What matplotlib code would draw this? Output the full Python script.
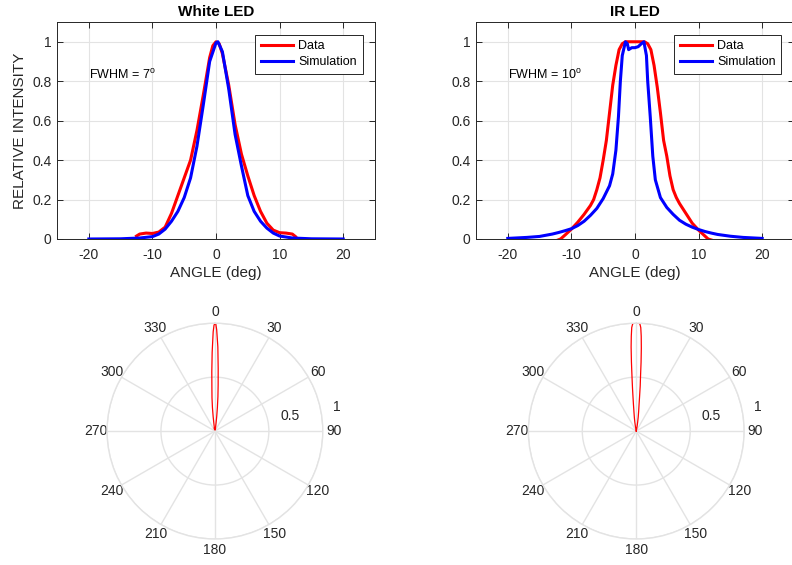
import numpy as np
import matplotlib
matplotlib.use("Agg")
from matplotlib import pyplot as plt

plt.rcParams['font.family'] = ['Liberation Sans', 'DejaVu Sans']
plt.rcParams['mathtext.fontset'] = 'custom'
plt.rcParams['mathtext.rm'] = 'Liberation Sans'
plt.rcParams['axes.unicode_minus'] = False

# White LED - measured data
white_ang = [-12.5, -12, -11, -10, -9, -8, -7, -6, -5, -4, -3, -2, -1, -0.5, 0,
             0.5, 1, 2, 3, 4, 5, 6, 7, 8, 9, 10, 11, 12, 12.5]
white_dat = [0.015, 0.025, 0.03, 0.028, 0.035, 0.06, 0.13, 0.22, 0.31, 0.40, 0.55, 0.73, 0.92, 0.98, 1.0,
             0.99, 0.94, 0.78, 0.58, 0.43, 0.32, 0.22, 0.14, 0.08, 0.045, 0.032, 0.03, 0.025, 0.012]

# White LED - simulation
white_sim_ang = [-20, -15, -12, -10, -9, -8, -7, -6, -5, -4, -3, -2, -1, 0, 0.3,
                 1, 2, 3, 4, 5, 6, 7, 8, 9, 10, 12, 15, 20]
white_sim = [0.0, 0.001, 0.005, 0.012, 0.025, 0.05, 0.09, 0.14, 0.21, 0.31, 0.47, 0.68, 0.9, 0.995, 1.0,
             0.95, 0.76, 0.53, 0.37, 0.22, 0.14, 0.09, 0.055, 0.03, 0.015, 0.005, 0.001, 0.0]

# IR LED - measured data
ir_ang = [-12.5, -11.7, -11, -10, -9, -8, -7, -6.5, -6, -5.5, -5, -4.5, -4, -3.5, -3, -2.5, -2, -1.5, 0,
          1.5, 2, 2.5, 3, 3.5, 4, 4.5, 5, 5.5, 6, 6.5, 7, 8, 9, 10, 11, 11.5, 12.5]
ir_dat = [-0.01, 0.0, 0.02, 0.05, 0.085, 0.125, 0.17, 0.2, 0.25, 0.31, 0.40, 0.5, 0.64, 0.78, 0.88, 0.96, 0.99, 1.0, 1.0,
          1.0, 0.99, 0.96, 0.88, 0.77, 0.64, 0.5, 0.42, 0.32, 0.25, 0.21, 0.18, 0.13, 0.08, 0.045, 0.015, 0.0, -0.01]

# IR LED - simulation
ir_sim_ang = [-20, -17, -15, -13, -12, -11, -10, -9, -8, -7, -6, -5, -4, -3.5, -3, -2.6, -2.3, -2, -1.5,
              -1.2, -1, -0.5, 0, 0.5, 1, 1.4, 1.8, 2, 2.4, 2.8, 3.2, 4, 5, 6, 7, 8, 9, 10, 11, 12, 13, 15, 17, 20]
ir_sim = [0.003, 0.008, 0.013, 0.025, 0.033, 0.042, 0.052, 0.068, 0.09, 0.12, 0.155, 0.205, 0.27, 0.33, 0.45, 0.62, 0.8, 0.93, 1.0,
          0.99, 0.96, 0.97, 0.97, 0.975, 0.99, 1.0, 0.93, 0.8, 0.62, 0.42, 0.3, 0.21, 0.16, 0.125, 0.095, 0.075, 0.06, 0.048, 0.038, 0.03, 0.023, 0.014, 0.008, 0.003]

titles = ["White LED", "IR LED"]
fwhm = ["FWHM = 7$^\\mathrm{o}$", "FWHM = 10$^\\mathrm{o}$"]

fig = plt.figure(figsize=(7.92, 5.65), dpi=100)

dark = '#262626'
grid_c = '#e3e3e3'

cart_pos = [[0.072, 0.577, 0.4015, 0.384], [0.601, 0.577, 0.4015, 0.384]]
polar_pos = [[0.135, 0.046, 0.2727, 0.382], [0.667, 0.046, 0.2727, 0.382]]

sets = [(white_ang, white_dat, white_sim_ang, white_sim),
        (ir_ang, ir_dat, ir_sim_ang, ir_sim)]

for i in range(2):
    a_d, v_d, a_s, v_s = sets[i]
    ax = fig.add_axes(cart_pos[i])
    ax.plot(a_d, v_d, color='#ff0000', lw=2.2, label="Data")
    ax.plot(a_s, v_s, color='#0000ff', lw=2.2, label="Simulation")
    ax.set_xlim(-25, 25)
    ax.set_ylim(0, 1.1)
    ax.set_xticks([-20, -10, 0, 10, 20])
    ax.set_yticks([0, 0.2, 0.4, 0.6, 0.8, 1])
    ax.set_yticklabels(["0", "0.2", "0.4", "0.6", "0.8", "1"])
    ax.grid(True, color=grid_c, lw=0.8)
    ax.set_axisbelow(True)
    ax.tick_params(direction='in', length=4, width=0.7, top=True, right=True,
                   labelsize=10, colors=dark, pad=4)
    ax.tick_params(axis='x', pad=6.5)
    for s in ax.spines.values():
        s.set_color(dark)
        s.set_linewidth(0.7)
    ax.set_title(titles[i], fontsize=11, fontweight='bold', pad=4)
    ax.set_xlabel("ANGLE (deg)", fontsize=11, color=dark, labelpad=3)
    if i == 0:
        ax.set_ylabel("RELATIVE INTENSITY", fontsize=11, color=dark, labelpad=4)
    ax.text(-20, 0.83, fwhm[i], fontsize=9, va='center', ha='left')
    leg = ax.legend(loc='upper right', fontsize=9, fancybox=False, framealpha=1,
                    edgecolor=dark, borderaxespad=1.0, handlelength=2.6,
                    labelspacing=0.32, borderpad=0.45, handletextpad=0.4)
    leg.get_frame().set_linewidth(0.7)

    # polar plot of the measured data
    pax = fig.add_axes(polar_pos[i], projection='polar')
    th = np.deg2rad(np.array(a_d))
    r = np.clip(np.array(v_d), 0, None)
    pax.plot(th, r, color='#ff0000', lw=0.9)
    pax.set_theta_zero_location('N')
    pax.set_theta_direction(-1)
    pax.set_ylim(0, 1)
    pax.set_yticks([0.5, 1])
    pax.set_yticklabels([])
    pax.set_xticks(np.deg2rad(np.arange(0, 360, 30)))
    pax.set_xticklabels([str(d) for d in range(0, 360, 30)])
    pax.tick_params(axis='x', labelsize=10, colors=dark, pad=-2.5)
    pax.grid(True, color=grid_c, lw=1.0)
    pax.spines['polar'].set_color(grid_c)
    pax.spines['polar'].set_linewidth(1.0)
    pax.text(np.deg2rad(79), 0.71, "0.5", fontsize=10, color=dark, ha='center', va='center')
    pax.text(np.deg2rad(79), 1.15, "1", fontsize=10, color=dark, ha='center', va='center', clip_on=False)

fig.savefig("out.png", dpi=100)
